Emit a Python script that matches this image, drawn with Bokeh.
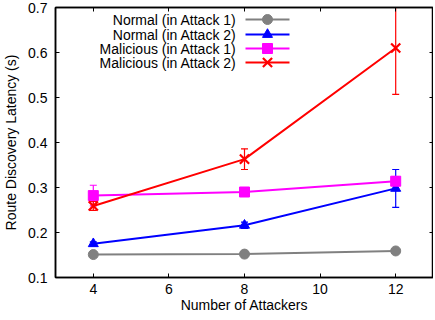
from bokeh.plotting import figure
from bokeh.models import (Range1d, LinearAxis, FixedTicker, Whisker, TeeHead,
                          ColumnDataSource, Label, NumeralTickFormatter, CustomJSTickFormatter)
from bokeh.embed import file_html
from bokeh.resources import INLINE

# ---- data ----
attackers = [4, 8, 12]
normal_a1 = [0.151, 0.152, 0.159]
normal_a1_err = [0.002, 0.002, 0.002]
normal_a2 = [0.175, 0.216, 0.298]
normal_a2_err = [0.004, 0.007, 0.042]
malicious_a1 = [0.282, 0.290, 0.314]
malicious_a1_err = [0.023, 0.007, 0.010]
malicious_a2 = [0.259, 0.363, 0.610]
malicious_a2_err = [0.010, 0.023, 0.103]

labels = ["Normal (in Attack 1)", "Normal (in Attack 2)",
          "Malicious (in Attack 1)", "Malicious (in Attack 2)"]
colors = ["#808080", "#0000ff", "#ff00ff", "#ff0000"]
markers = ["circle", "triangle", "square", "x"]
msizes = [10, 10, 10, 13]

x_ticks = [4, 6, 8, 10, 12]
y_ticks = [0.1, 0.2, 0.3, 0.4, 0.5, 0.6, 0.7]

FONT = "Liberation Sans"
FS = "14px"

FW, FH = 378, 270
p = figure(frame_width=FW, frame_height=FH, output_backend="svg",
           toolbar_location=None, x_range=Range1d(3, 13), y_range=Range1d(0.1, 0.7),
           min_border_left=49, min_border_right=0, min_border_top=7, min_border_bottom=38,
           x_axis_label="Number of Attackers", y_axis_label="Route Discovery Latency (s)")
p.grid.visible = False
p.outline_line_color = "black"
p.outline_line_width = 1.5
p.background_fill_color = "white"
p.border_fill_color = "white"

for ax in p.xaxis + p.yaxis:
    ax.major_tick_in = 4
    ax.major_tick_out = 0
    ax.minor_tick_line_color = None
    ax.axis_line_width = 1.5
    ax.major_tick_line_width = 1
    ax.major_label_text_font = FONT
    ax.major_label_text_font_size = FS
    ax.major_label_text_color = "black"
    ax.axis_label_text_font = FONT
    ax.axis_label_text_font_size = FS
    ax.axis_label_text_font_style = "normal"
    ax.axis_label_text_color = "black"
p.xaxis.ticker = FixedTicker(ticks=x_ticks)
p.yaxis.ticker = FixedTicker(ticks=y_ticks)
p.yaxis.formatter = NumeralTickFormatter(format="0.0")
p.xaxis.major_label_standoff = 6
p.xaxis.axis_label_standoff = 0
p.yaxis.major_label_standoff = 8
p.yaxis.axis_label_standoff = 6

# mirror axes (ticks only)
blank = CustomJSTickFormatter(code="return ''")
top = LinearAxis(ticker=FixedTicker(ticks=x_ticks), major_tick_in=4, major_tick_out=0,
                 minor_tick_line_color=None, formatter=blank,
                 major_label_standoff=0, axis_line_width=1.5)
right = LinearAxis(ticker=FixedTicker(ticks=y_ticks), major_tick_in=4, major_tick_out=0,
                   minor_tick_line_color=None, formatter=blank,
                   major_label_standoff=0, axis_line_width=1.5)
p.add_layout(top, "above")
p.add_layout(right, "right")

series = [(normal_a1, normal_a1_err), (normal_a2, normal_a2_err),
          (malicious_a1, malicious_a1_err), (malicious_a2, malicious_a2_err)]

for (ys, es), c, m, s in zip(series, colors, markers, msizes):
    src = ColumnDataSource(dict(x=attackers, y=ys,
                                lo=[y - e for y, e in zip(ys, es)],
                                hi=[y + e for y, e in zip(ys, es)]))
    w = Whisker(source=src, base="x", lower="lo", upper="hi", line_color=c, line_width=1.2,
                upper_head=TeeHead(size=7, line_color=c, line_width=1.2),
                lower_head=TeeHead(size=7, line_color=c, line_width=1.2))
    p.add_layout(w)
    p.line("x", "y", source=src, line_color=c, line_width=2)
    if m == "x":
        p.scatter("x", "y", source=src, marker=m, size=s, line_color=c, line_width=2.2)
    else:
        p.scatter("x", "y", source=src, marker=m, size=s, fill_color=c, line_color=c)

# ---- custom legend (label left, sample right), frame pixel coordinates ----
p.extra_x_ranges["px"] = Range1d(0, FW)
p.extra_y_ranges["py"] = Range1d(0, FH)
text_right = 181
line_x0, line_x1 = 190, 234
row_offsets = [12, 27, 41, 55]
for lab, c, m, s, off in zip(labels, colors, markers, msizes, row_offsets):
    yy = FH - off
    p.add_layout(Label(x=text_right, y=yy, x_units="screen", y_units="screen",
                       text=lab, text_align="right", text_baseline="middle",
                       text_font=FONT, text_font_size=FS, text_color="black"))
    p.line([line_x0, line_x1], [yy, yy], x_range_name="px", y_range_name="py",
           line_color=c, line_width=2)
    if m == "x":
        p.scatter([(line_x0 + line_x1) / 2], [yy], x_range_name="px", y_range_name="py",
                  marker=m, size=s, line_color=c, line_width=2.2)
    else:
        p.scatter([(line_x0 + line_x1) / 2], [yy], x_range_name="px", y_range_name="py",
                  marker=m, size=s, fill_color=c, line_color=c)

open("out.html", "w").write(file_html(p, INLINE))
